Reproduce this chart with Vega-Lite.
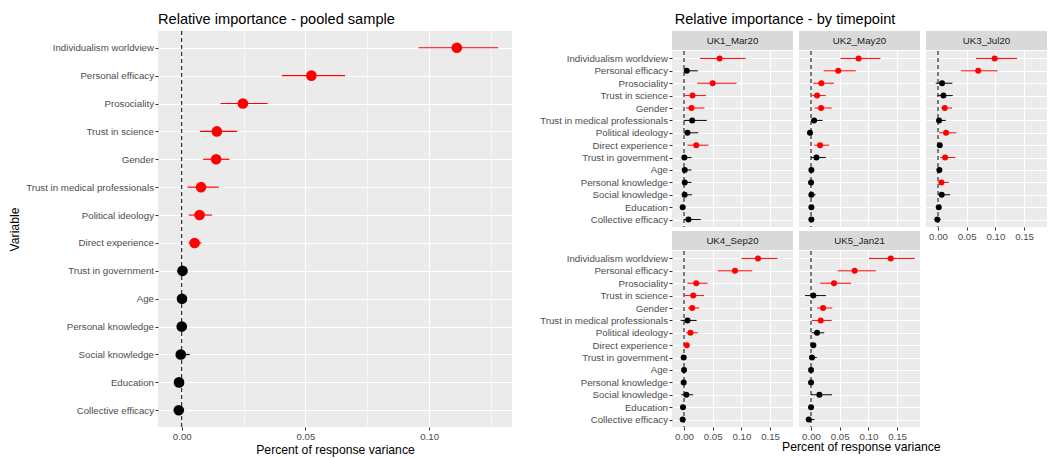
{
"$schema": "https://vega.github.io/schema/vega-lite/v6.json",
"background": "white",
"padding": {"left": 8, "top": 11, "right": 0, "bottom": 2},
"config": {
  "view": {"fill": "#EBEBEB", "stroke": null},
  "axis": {"domain": false, "labelColor": "#4D4D4D", "labelFont": "Liberation Sans", "labelFontSize": 9.7, "tickColor": "#333333", "tickSize": 3, "labelPadding": 1.5, "titleFont": "Liberation Sans", "titleFontSize": 12.2, "titleFontWeight": "normal", "titleColor": "#000000", "titlePadding": 2, "gridColor": "#FFFFFF", "gridWidth": 1.1, "minExtent": 0},
  "axisY": {"minExtent": 0},
  "axisX": {"minExtent": 0},
  "title": {"font": "Liberation Sans", "fontSize": 14.6, "fontWeight": "normal", "color": "#000000", "anchor": "start"},
  "text": {"font": "Liberation Sans"}
},
"datasets": {
  "pooled": [
    {"variable": "Individualism worldview", "est": 0.1112, "lo": 0.0957, "hi": 0.1279, "sig": "yes"},
    {"variable": "Personal efficacy", "est": 0.0524, "lo": 0.0404, "hi": 0.066, "sig": "yes"},
    {"variable": "Prosociality", "est": 0.0247, "lo": 0.0157, "hi": 0.0347, "sig": "yes"},
    {"variable": "Trust in science", "est": 0.0142, "lo": 0.0074, "hi": 0.0224, "sig": "yes"},
    {"variable": "Gender", "est": 0.0139, "lo": 0.0086, "hi": 0.0193, "sig": "yes"},
    {"variable": "Trust in medical professionals", "est": 0.0078, "lo": 0.0023, "hi": 0.015, "sig": "yes"},
    {"variable": "Political ideology", "est": 0.0072, "lo": 0.0028, "hi": 0.0122, "sig": "yes"},
    {"variable": "Direct experience", "est": 0.0052, "lo": 0.0028, "hi": 0.008, "sig": "yes"},
    {"variable": "Trust in government", "est": 0.0003, "lo": -0.0005, "hi": 0.0012, "sig": "no"},
    {"variable": "Age", "est": 0.0001, "lo": -0.0004, "hi": 0.0008, "sig": "no"},
    {"variable": "Personal knowledge", "est": 0.0, "lo": -0.0005, "hi": 0.0006, "sig": "no"},
    {"variable": "Social knowledge", "est": -0.0004, "lo": -0.0012, "hi": 0.0032, "sig": "no"},
    {"variable": "Education", "est": -0.0011, "lo": -0.0015, "hi": -0.0006, "sig": "no"},
    {"variable": "Collective efficacy", "est": -0.0012, "lo": -0.0018, "hi": -0.0006, "sig": "no"}
  ],
  "tp": [
    {"tp": "UK1_Mar20", "variable": "Individualism worldview", "est": 0.062, "lo": 0.028, "hi": 0.1076, "sig": "yes"},
    {"tp": "UK1_Mar20", "variable": "Personal efficacy", "est": 0.0047, "lo": 0.0, "hi": 0.024, "sig": "no"},
    {"tp": "UK1_Mar20", "variable": "Prosociality", "est": 0.05, "lo": 0.023, "hi": 0.0916, "sig": "yes"},
    {"tp": "UK1_Mar20", "variable": "Trust in science", "est": 0.0148, "lo": 0.001, "hi": 0.0384, "sig": "yes"},
    {"tp": "UK1_Mar20", "variable": "Gender", "est": 0.013, "lo": 0.0035, "hi": 0.0355, "sig": "yes"},
    {"tp": "UK1_Mar20", "variable": "Trust in medical professionals", "est": 0.0142, "lo": -0.0006, "hi": 0.0396, "sig": "no"},
    {"tp": "UK1_Mar20", "variable": "Political ideology", "est": 0.006, "lo": -0.001, "hi": 0.0248, "sig": "no"},
    {"tp": "UK1_Mar20", "variable": "Direct experience", "est": 0.0213, "lo": 0.006, "hi": 0.0426, "sig": "yes"},
    {"tp": "UK1_Mar20", "variable": "Trust in government", "est": 0.0006, "lo": -0.002, "hi": 0.013, "sig": "no"},
    {"tp": "UK1_Mar20", "variable": "Age", "est": 0.0012, "lo": -0.001, "hi": 0.013, "sig": "no"},
    {"tp": "UK1_Mar20", "variable": "Personal knowledge", "est": 0.0012, "lo": -0.001, "hi": 0.013, "sig": "no"},
    {"tp": "UK1_Mar20", "variable": "Social knowledge", "est": 0.001, "lo": -0.002, "hi": 0.014, "sig": "no"},
    {"tp": "UK1_Mar20", "variable": "Education", "est": -0.0024, "lo": -0.003, "hi": -0.001, "sig": "no"},
    {"tp": "UK1_Mar20", "variable": "Collective efficacy", "est": 0.0077, "lo": 0.0, "hi": 0.029, "sig": "no"},
    {"tp": "UK2_May20", "variable": "Individualism worldview", "est": 0.083, "lo": 0.0515, "hi": 0.121, "sig": "yes"},
    {"tp": "UK2_May20", "variable": "Personal efficacy", "est": 0.0474, "lo": 0.022, "hi": 0.078, "sig": "yes"},
    {"tp": "UK2_May20", "variable": "Prosociality", "est": 0.018, "lo": 0.004, "hi": 0.04, "sig": "yes"},
    {"tp": "UK2_May20", "variable": "Trust in science", "est": 0.0105, "lo": 0.0018, "hi": 0.0257, "sig": "yes"},
    {"tp": "UK2_May20", "variable": "Gender", "est": 0.0175, "lo": 0.0064, "hi": 0.036, "sig": "yes"},
    {"tp": "UK2_May20", "variable": "Trust in medical professionals", "est": 0.0053, "lo": 0.0, "hi": 0.0199, "sig": "no"},
    {"tp": "UK2_May20", "variable": "Political ideology", "est": -0.0018, "lo": -0.003, "hi": -0.001, "sig": "no"},
    {"tp": "UK2_May20", "variable": "Direct experience", "est": 0.0158, "lo": 0.0058, "hi": 0.0316, "sig": "yes"},
    {"tp": "UK2_May20", "variable": "Trust in government", "est": 0.0094, "lo": 0.0, "hi": 0.0257, "sig": "no"},
    {"tp": "UK2_May20", "variable": "Age", "est": 0.0006, "lo": -0.001, "hi": 0.002, "sig": "no"},
    {"tp": "UK2_May20", "variable": "Personal knowledge", "est": 0.0, "lo": -0.001, "hi": 0.001, "sig": "no"},
    {"tp": "UK2_May20", "variable": "Social knowledge", "est": 0.0006, "lo": -0.004, "hi": 0.008, "sig": "no"},
    {"tp": "UK2_May20", "variable": "Education", "est": 0.0006, "lo": -0.001, "hi": 0.002, "sig": "no"},
    {"tp": "UK2_May20", "variable": "Collective efficacy", "est": 0.0006, "lo": -0.001, "hi": 0.002, "sig": "no"},
    {"tp": "UK3_Jul20", "variable": "Individualism worldview", "est": 0.0988, "lo": 0.066, "hi": 0.138, "sig": "yes"},
    {"tp": "UK3_Jul20", "variable": "Personal efficacy", "est": 0.07, "lo": 0.04, "hi": 0.104, "sig": "yes"},
    {"tp": "UK3_Jul20", "variable": "Prosociality", "est": 0.007, "lo": -0.004, "hi": 0.025, "sig": "no"},
    {"tp": "UK3_Jul20", "variable": "Trust in science", "est": 0.0094, "lo": -0.001, "hi": 0.0257, "sig": "no"},
    {"tp": "UK3_Jul20", "variable": "Gender", "est": 0.0117, "lo": 0.0058, "hi": 0.0246, "sig": "yes"},
    {"tp": "UK3_Jul20", "variable": "Trust in medical professionals", "est": 0.0018, "lo": -0.003, "hi": 0.0135, "sig": "no"},
    {"tp": "UK3_Jul20", "variable": "Political ideology", "est": 0.014, "lo": 0.0018, "hi": 0.032, "sig": "yes"},
    {"tp": "UK3_Jul20", "variable": "Direct experience", "est": 0.003, "lo": 0.0, "hi": 0.006, "sig": "no"},
    {"tp": "UK3_Jul20", "variable": "Trust in government", "est": 0.0123, "lo": 0.004, "hi": 0.03, "sig": "yes"},
    {"tp": "UK3_Jul20", "variable": "Age", "est": 0.0023, "lo": 0.0, "hi": 0.004, "sig": "no"},
    {"tp": "UK3_Jul20", "variable": "Personal knowledge", "est": 0.0058, "lo": 0.0006, "hi": 0.0187, "sig": "yes"},
    {"tp": "UK3_Jul20", "variable": "Social knowledge", "est": 0.0064, "lo": 0.0, "hi": 0.021, "sig": "no"},
    {"tp": "UK3_Jul20", "variable": "Education", "est": 0.0012, "lo": 0.0, "hi": 0.003, "sig": "no"},
    {"tp": "UK3_Jul20", "variable": "Collective efficacy", "est": -0.0012, "lo": -0.006, "hi": 0.0047, "sig": "no"},
    {"tp": "UK4_Sep20", "variable": "Individualism worldview", "est": 0.129, "lo": 0.1, "hi": 0.163, "sig": "yes"},
    {"tp": "UK4_Sep20", "variable": "Personal efficacy", "est": 0.0888, "lo": 0.059, "hi": 0.119, "sig": "yes"},
    {"tp": "UK4_Sep20", "variable": "Prosociality", "est": 0.0213, "lo": 0.006, "hi": 0.041, "sig": "yes"},
    {"tp": "UK4_Sep20", "variable": "Trust in science", "est": 0.016, "lo": 0.001, "hi": 0.035, "sig": "yes"},
    {"tp": "UK4_Sep20", "variable": "Gender", "est": 0.0142, "lo": 0.007, "hi": 0.0266, "sig": "yes"},
    {"tp": "UK4_Sep20", "variable": "Trust in medical professionals", "est": 0.006, "lo": -0.006, "hi": 0.022, "sig": "no"},
    {"tp": "UK4_Sep20", "variable": "Political ideology", "est": 0.0112, "lo": 0.004, "hi": 0.024, "sig": "yes"},
    {"tp": "UK4_Sep20", "variable": "Direct experience", "est": 0.0047, "lo": 0.0005, "hi": 0.0095, "sig": "yes"},
    {"tp": "UK4_Sep20", "variable": "Trust in government", "est": -0.0006, "lo": -0.002, "hi": 0.001, "sig": "no"},
    {"tp": "UK4_Sep20", "variable": "Age", "est": 0.0, "lo": -0.001, "hi": 0.001, "sig": "no"},
    {"tp": "UK4_Sep20", "variable": "Personal knowledge", "est": -0.0006, "lo": -0.002, "hi": 0.001, "sig": "no"},
    {"tp": "UK4_Sep20", "variable": "Social knowledge", "est": 0.004, "lo": -0.005, "hi": 0.016, "sig": "no"},
    {"tp": "UK4_Sep20", "variable": "Education", "est": -0.0018, "lo": -0.003, "hi": 0.0, "sig": "no"},
    {"tp": "UK4_Sep20", "variable": "Collective efficacy", "est": -0.0024, "lo": -0.004, "hi": 0.0, "sig": "no"},
    {"tp": "UK5_Jan21", "variable": "Individualism worldview", "est": 0.139, "lo": 0.101, "hi": 0.181, "sig": "yes"},
    {"tp": "UK5_Jan21", "variable": "Personal efficacy", "est": 0.076, "lo": 0.0465, "hi": 0.113, "sig": "yes"},
    {"tp": "UK5_Jan21", "variable": "Prosociality", "est": 0.04, "lo": 0.016, "hi": 0.07, "sig": "yes"},
    {"tp": "UK5_Jan21", "variable": "Trust in science", "est": 0.004, "lo": -0.0105, "hi": 0.026, "sig": "no"},
    {"tp": "UK5_Jan21", "variable": "Gender", "est": 0.021, "lo": 0.0105, "hi": 0.037, "sig": "yes"},
    {"tp": "UK5_Jan21", "variable": "Trust in medical professionals", "est": 0.0169, "lo": 0.0012, "hi": 0.036, "sig": "yes"},
    {"tp": "UK5_Jan21", "variable": "Political ideology", "est": 0.0105, "lo": 0.001, "hi": 0.023, "sig": "no"},
    {"tp": "UK5_Jan21", "variable": "Direct experience", "est": 0.004, "lo": 0.0, "hi": 0.008, "sig": "no"},
    {"tp": "UK5_Jan21", "variable": "Trust in government", "est": 0.0017, "lo": -0.001, "hi": 0.01, "sig": "no"},
    {"tp": "UK5_Jan21", "variable": "Age", "est": 0.0, "lo": -0.001, "hi": 0.001, "sig": "no"},
    {"tp": "UK5_Jan21", "variable": "Personal knowledge", "est": 0.0, "lo": -0.001, "hi": 0.001, "sig": "no"},
    {"tp": "UK5_Jan21", "variable": "Social knowledge", "est": 0.0145, "lo": 0.0, "hi": 0.0366, "sig": "no"},
    {"tp": "UK5_Jan21", "variable": "Education", "est": 0.0, "lo": -0.001, "hi": 0.001, "sig": "no"},
    {"tp": "UK5_Jan21", "variable": "Collective efficacy", "est": -0.004, "lo": -0.009, "hi": 0.006, "sig": "no"}
  ]
},
"spacing": 27,
"hconcat": [
  {
    "title": {"text": "Relative importance - pooled sample", "frame": "group"},
    "width": 354, "height": 396,
    "layer": [
      {"data": {"values": [{"zero": 0}]}, "mark": {"type": "rule", "strokeDash": [4, 3], "color": "#000000", "strokeWidth": 1}, "encoding": {"x": {"field": "zero", "type": "quantitative", "title": "Percent of response variance", "scale": {"domain": [-0.0096, 0.1335], "nice": false, "zero": false}}}},
      {"data": {"name": "pooled"}, "mark": {"type": "rule", "strokeWidth": 1.2}, "encoding": {
        "x": {"field": "lo", "type": "quantitative", "title": "Percent of response variance"}, "x2": {"field": "hi"},
        "y": {"field": "variable", "type": "nominal", "title": "Variable", "sort": ["Individualism worldview","Personal efficacy","Prosociality","Trust in science","Gender","Trust in medical professionals","Political ideology","Direct experience","Trust in government","Age","Personal knowledge","Social knowledge","Education","Collective efficacy"]},
        "color": {"field": "sig", "type": "nominal", "scale": {"domain": ["yes", "no"], "range": ["#FF0000", "#000000"]}, "legend": null}}},
      {"data": {"name": "pooled"}, "mark": {"type": "circle", "size": 113, "opacity": 1}, "encoding": {
        "x": {"field": "est", "type": "quantitative", "title": "Percent of response variance", "axis": {"values": [0, 0.025, 0.05, 0.075, 0.1, 0.125], "labelExpr": "abs(datum.value*20-round(datum.value*20))<0.001 ? format(datum.value, '.2f') : ''", "tickOpacity": {"condition": {"test": "abs(datum.value*20-round(datum.value*20))<0.001", "value": 1}, "value": 0}, "gridWidth": {"condition": {"test": "abs(datum.value*20-round(datum.value*20))<0.001", "value": 1.1}, "value": 0.55}}},
        "y": {"field": "variable", "type": "nominal", "title": "Variable", "sort": ["Individualism worldview","Personal efficacy","Prosociality","Trust in science","Gender","Trust in medical professionals","Political ideology","Direct experience","Trust in government","Age","Personal knowledge","Social knowledge","Education","Collective efficacy"], "scale": {"type": "point", "padding": 0.6}, "axis": {"grid": true, "gridWidth": 1.1, "titlePadding": 4}},
        "color": {"field": "sig", "type": "nominal", "scale": {"domain": ["yes", "no"], "range": ["#FF0000", "#000000"]}, "legend": null}}}
    ]
  },
  {
    "title": {"text": "Relative importance - by timepoint", "dx": 135},
    "vconcat": [
  {
    "title": {"text": "Percent of response variance", "orient": "bottom", "anchor": "middle", "dx": 68, "fontSize": 12.2, "offset": 0},
    "spacing": 6,
    "hconcat": [
      {"spacing": 3, "vconcat": [
        {"spacing": 0, "vconcat": [
          {"width": 121, "height": 19, "view": {"fill": "#D9D9D9", "stroke": null}, "data": {"values": [{"panel": "UK1_Mar20"}]}, "mark": {"type": "text", "fontSize": 9.7, "color": "#1A1A1A", "baseline": "middle"}, "encoding": {"text": {"field": "panel"}}},
          {"width": 121, "height": 176, "data": {"name": "tp"}, "transform": [{"filter": "datum.tp === 'UK1_Mar20'"}], "layer": [
            {"data": {"values": [{"zero": 0}]}, "mark": {"type": "rule", "strokeDash": [4, 3], "color": "#000000", "strokeWidth": 1}, "encoding": {"x": {"field": "zero", "type": "quantitative", "title": null, "scale": {"domain": [-0.021, 0.19], "nice": false, "zero": false}}}},
            {"mark": {"type": "rule", "strokeWidth": 1}, "encoding": {"x": {"field": "lo", "type": "quantitative", "title": null}, "x2": {"field": "hi"}, "y": {"field": "variable", "type": "nominal", "title": null, "sort": ["Individualism worldview","Personal efficacy","Prosociality","Trust in science","Gender","Trust in medical professionals","Political ideology","Direct experience","Trust in government","Age","Personal knowledge","Social knowledge","Education","Collective efficacy"]}, "color": {"field": "sig", "type": "nominal", "scale": {"domain": ["yes", "no"], "range": ["#FF0000", "#000000"]}, "legend": null}}},
            {"mark": {"type": "circle", "size": 36, "opacity": 1}, "encoding": {
              "x": {"field": "est", "type": "quantitative", "title": null, "axis": {"values": [0, 0.025, 0.05, 0.075, 0.1, 0.125, 0.15, 0.175], "labels": false, "ticks": false, "gridWidth": {"condition": {"test": "abs(datum.value*20-round(datum.value*20))<0.001", "value": 1.1}, "value": 0.55}}},
              "y": {"field": "variable", "type": "nominal", "title": null, "sort": ["Individualism worldview","Personal efficacy","Prosociality","Trust in science","Gender","Trust in medical professionals","Political ideology","Direct experience","Trust in government","Age","Personal knowledge","Social knowledge","Education","Collective efficacy"], "scale": {"type": "point", "padding": 0.6}, "axis": {"grid": true, "gridWidth": 1.1}},
              "color": {"field": "sig", "type": "nominal", "scale": {"domain": ["yes", "no"], "range": ["#FF0000", "#000000"]}, "legend": null}}}
          ]}
        ]},
        {"spacing": 0, "vconcat": [
          {"width": 121, "height": 19, "view": {"fill": "#D9D9D9", "stroke": null}, "data": {"values": [{"panel": "UK4_Sep20"}]}, "mark": {"type": "text", "fontSize": 9.7, "color": "#1A1A1A", "baseline": "middle"}, "encoding": {"text": {"field": "panel"}}},
          {"width": 121, "height": 176, "data": {"name": "tp"}, "transform": [{"filter": "datum.tp === 'UK4_Sep20'"}], "layer": [
            {"data": {"values": [{"zero": 0}]}, "mark": {"type": "rule", "strokeDash": [4, 3], "color": "#000000", "strokeWidth": 1}, "encoding": {"x": {"field": "zero", "type": "quantitative", "title": null, "scale": {"domain": [-0.021, 0.19], "nice": false, "zero": false}}}},
            {"mark": {"type": "rule", "strokeWidth": 1}, "encoding": {"x": {"field": "lo", "type": "quantitative", "title": null}, "x2": {"field": "hi"}, "y": {"field": "variable", "type": "nominal", "title": null, "sort": ["Individualism worldview","Personal efficacy","Prosociality","Trust in science","Gender","Trust in medical professionals","Political ideology","Direct experience","Trust in government","Age","Personal knowledge","Social knowledge","Education","Collective efficacy"]}, "color": {"field": "sig", "type": "nominal", "scale": {"domain": ["yes", "no"], "range": ["#FF0000", "#000000"]}, "legend": null}}},
            {"mark": {"type": "circle", "size": 36, "opacity": 1}, "encoding": {
              "x": {"field": "est", "type": "quantitative", "title": null, "axis": {"values": [0, 0.025, 0.05, 0.075, 0.1, 0.125, 0.15, 0.175], "labelExpr": "abs(datum.value*20-round(datum.value*20))<0.001 ? format(datum.value, '.2f') : ''", "tickOpacity": {"condition": {"test": "abs(datum.value*20-round(datum.value*20))<0.001", "value": 1}, "value": 0}, "gridWidth": {"condition": {"test": "abs(datum.value*20-round(datum.value*20))<0.001", "value": 1.1}, "value": 0.55}}},
              "y": {"field": "variable", "type": "nominal", "title": null, "sort": ["Individualism worldview","Personal efficacy","Prosociality","Trust in science","Gender","Trust in medical professionals","Political ideology","Direct experience","Trust in government","Age","Personal knowledge","Social knowledge","Education","Collective efficacy"], "scale": {"type": "point", "padding": 0.6}, "axis": {"grid": true, "gridWidth": 1.1}},
              "color": {"field": "sig", "type": "nominal", "scale": {"domain": ["yes", "no"], "range": ["#FF0000", "#000000"]}, "legend": null}}}
          ]}
        ]}
      ]},
      {"spacing": 3, "vconcat": [
        {"spacing": 0, "vconcat": [
          {"width": 121, "height": 19, "view": {"fill": "#D9D9D9", "stroke": null}, "data": {"values": [{"panel": "UK2_May20"}]}, "mark": {"type": "text", "fontSize": 9.7, "color": "#1A1A1A", "baseline": "middle"}, "encoding": {"text": {"field": "panel"}}},
          {"width": 121, "height": 176, "data": {"name": "tp"}, "transform": [{"filter": "datum.tp === 'UK2_May20'"}], "layer": [
            {"data": {"values": [{"zero": 0}]}, "mark": {"type": "rule", "strokeDash": [4, 3], "color": "#000000", "strokeWidth": 1}, "encoding": {"x": {"field": "zero", "type": "quantitative", "title": null, "scale": {"domain": [-0.021, 0.19], "nice": false, "zero": false}}}},
            {"mark": {"type": "rule", "strokeWidth": 1}, "encoding": {"x": {"field": "lo", "type": "quantitative", "title": null}, "x2": {"field": "hi"}, "y": {"field": "variable", "type": "nominal", "title": null, "sort": ["Individualism worldview","Personal efficacy","Prosociality","Trust in science","Gender","Trust in medical professionals","Political ideology","Direct experience","Trust in government","Age","Personal knowledge","Social knowledge","Education","Collective efficacy"]}, "color": {"field": "sig", "type": "nominal", "scale": {"domain": ["yes", "no"], "range": ["#FF0000", "#000000"]}, "legend": null}}},
            {"mark": {"type": "circle", "size": 36, "opacity": 1}, "encoding": {
              "x": {"field": "est", "type": "quantitative", "title": null, "axis": {"values": [0, 0.025, 0.05, 0.075, 0.1, 0.125, 0.15, 0.175], "labels": false, "ticks": false, "gridWidth": {"condition": {"test": "abs(datum.value*20-round(datum.value*20))<0.001", "value": 1.1}, "value": 0.55}}},
              "y": {"field": "variable", "type": "nominal", "title": null, "sort": ["Individualism worldview","Personal efficacy","Prosociality","Trust in science","Gender","Trust in medical professionals","Political ideology","Direct experience","Trust in government","Age","Personal knowledge","Social knowledge","Education","Collective efficacy"], "scale": {"type": "point", "padding": 0.6}, "axis": {"grid": true, "gridWidth": 1.1, "labels": false, "ticks": false}},
              "color": {"field": "sig", "type": "nominal", "scale": {"domain": ["yes", "no"], "range": ["#FF0000", "#000000"]}, "legend": null}}}
          ]}
        ]},
        {"spacing": 0, "vconcat": [
          {"width": 121, "height": 19, "view": {"fill": "#D9D9D9", "stroke": null}, "data": {"values": [{"panel": "UK5_Jan21"}]}, "mark": {"type": "text", "fontSize": 9.7, "color": "#1A1A1A", "baseline": "middle"}, "encoding": {"text": {"field": "panel"}}},
          {"width": 121, "height": 176, "data": {"name": "tp"}, "transform": [{"filter": "datum.tp === 'UK5_Jan21'"}], "layer": [
            {"data": {"values": [{"zero": 0}]}, "mark": {"type": "rule", "strokeDash": [4, 3], "color": "#000000", "strokeWidth": 1}, "encoding": {"x": {"field": "zero", "type": "quantitative", "title": null, "scale": {"domain": [-0.021, 0.19], "nice": false, "zero": false}}}},
            {"mark": {"type": "rule", "strokeWidth": 1}, "encoding": {"x": {"field": "lo", "type": "quantitative", "title": null}, "x2": {"field": "hi"}, "y": {"field": "variable", "type": "nominal", "title": null, "sort": ["Individualism worldview","Personal efficacy","Prosociality","Trust in science","Gender","Trust in medical professionals","Political ideology","Direct experience","Trust in government","Age","Personal knowledge","Social knowledge","Education","Collective efficacy"]}, "color": {"field": "sig", "type": "nominal", "scale": {"domain": ["yes", "no"], "range": ["#FF0000", "#000000"]}, "legend": null}}},
            {"mark": {"type": "circle", "size": 36, "opacity": 1}, "encoding": {
              "x": {"field": "est", "type": "quantitative", "title": null, "axis": {"values": [0, 0.025, 0.05, 0.075, 0.1, 0.125, 0.15, 0.175], "labelExpr": "abs(datum.value*20-round(datum.value*20))<0.001 ? format(datum.value, '.2f') : ''", "tickOpacity": {"condition": {"test": "abs(datum.value*20-round(datum.value*20))<0.001", "value": 1}, "value": 0}, "gridWidth": {"condition": {"test": "abs(datum.value*20-round(datum.value*20))<0.001", "value": 1.1}, "value": 0.55}}},
              "y": {"field": "variable", "type": "nominal", "title": null, "sort": ["Individualism worldview","Personal efficacy","Prosociality","Trust in science","Gender","Trust in medical professionals","Political ideology","Direct experience","Trust in government","Age","Personal knowledge","Social knowledge","Education","Collective efficacy"], "scale": {"type": "point", "padding": 0.6}, "axis": {"grid": true, "gridWidth": 1.1, "labels": false, "ticks": false}},
              "color": {"field": "sig", "type": "nominal", "scale": {"domain": ["yes", "no"], "range": ["#FF0000", "#000000"]}, "legend": null}}}
          ]}
        ]}
      ]},
      {"spacing": 0, "vconcat": [
        {"width": 121, "height": 19, "view": {"fill": "#D9D9D9", "stroke": null}, "data": {"values": [{"panel": "UK3_Jul20"}]}, "mark": {"type": "text", "fontSize": 9.7, "color": "#1A1A1A", "baseline": "middle"}, "encoding": {"text": {"field": "panel"}}},
        {"width": 121, "height": 176, "data": {"name": "tp"}, "transform": [{"filter": "datum.tp === 'UK3_Jul20'"}], "layer": [
          {"data": {"values": [{"zero": 0}]}, "mark": {"type": "rule", "strokeDash": [4, 3], "color": "#000000", "strokeWidth": 1}, "encoding": {"x": {"field": "zero", "type": "quantitative", "title": null, "scale": {"domain": [-0.021, 0.19], "nice": false, "zero": false}}}},
          {"mark": {"type": "rule", "strokeWidth": 1}, "encoding": {"x": {"field": "lo", "type": "quantitative", "title": null}, "x2": {"field": "hi"}, "y": {"field": "variable", "type": "nominal", "title": null, "sort": ["Individualism worldview","Personal efficacy","Prosociality","Trust in science","Gender","Trust in medical professionals","Political ideology","Direct experience","Trust in government","Age","Personal knowledge","Social knowledge","Education","Collective efficacy"]}, "color": {"field": "sig", "type": "nominal", "scale": {"domain": ["yes", "no"], "range": ["#FF0000", "#000000"]}, "legend": null}}},
          {"mark": {"type": "circle", "size": 36, "opacity": 1}, "encoding": {
            "x": {"field": "est", "type": "quantitative", "title": null, "axis": {"values": [0, 0.025, 0.05, 0.075, 0.1, 0.125, 0.15, 0.175], "labelExpr": "abs(datum.value*20-round(datum.value*20))<0.001 ? format(datum.value, '.2f') : ''", "tickOpacity": {"condition": {"test": "abs(datum.value*20-round(datum.value*20))<0.001", "value": 1}, "value": 0}, "gridWidth": {"condition": {"test": "abs(datum.value*20-round(datum.value*20))<0.001", "value": 1.1}, "value": 0.55}}},
            "y": {"field": "variable", "type": "nominal", "title": null, "sort": ["Individualism worldview","Personal efficacy","Prosociality","Trust in science","Gender","Trust in medical professionals","Political ideology","Direct experience","Trust in government","Age","Personal knowledge","Social knowledge","Education","Collective efficacy"], "scale": {"type": "point", "padding": 0.6}, "axis": {"grid": true, "gridWidth": 1.1, "labels": false, "ticks": false}},
            "color": {"field": "sig", "type": "nominal", "scale": {"domain": ["yes", "no"], "range": ["#FF0000", "#000000"]}, "legend": null}}}
        ]}
      ]}
    ]
  }
    ]
  }
]
}
